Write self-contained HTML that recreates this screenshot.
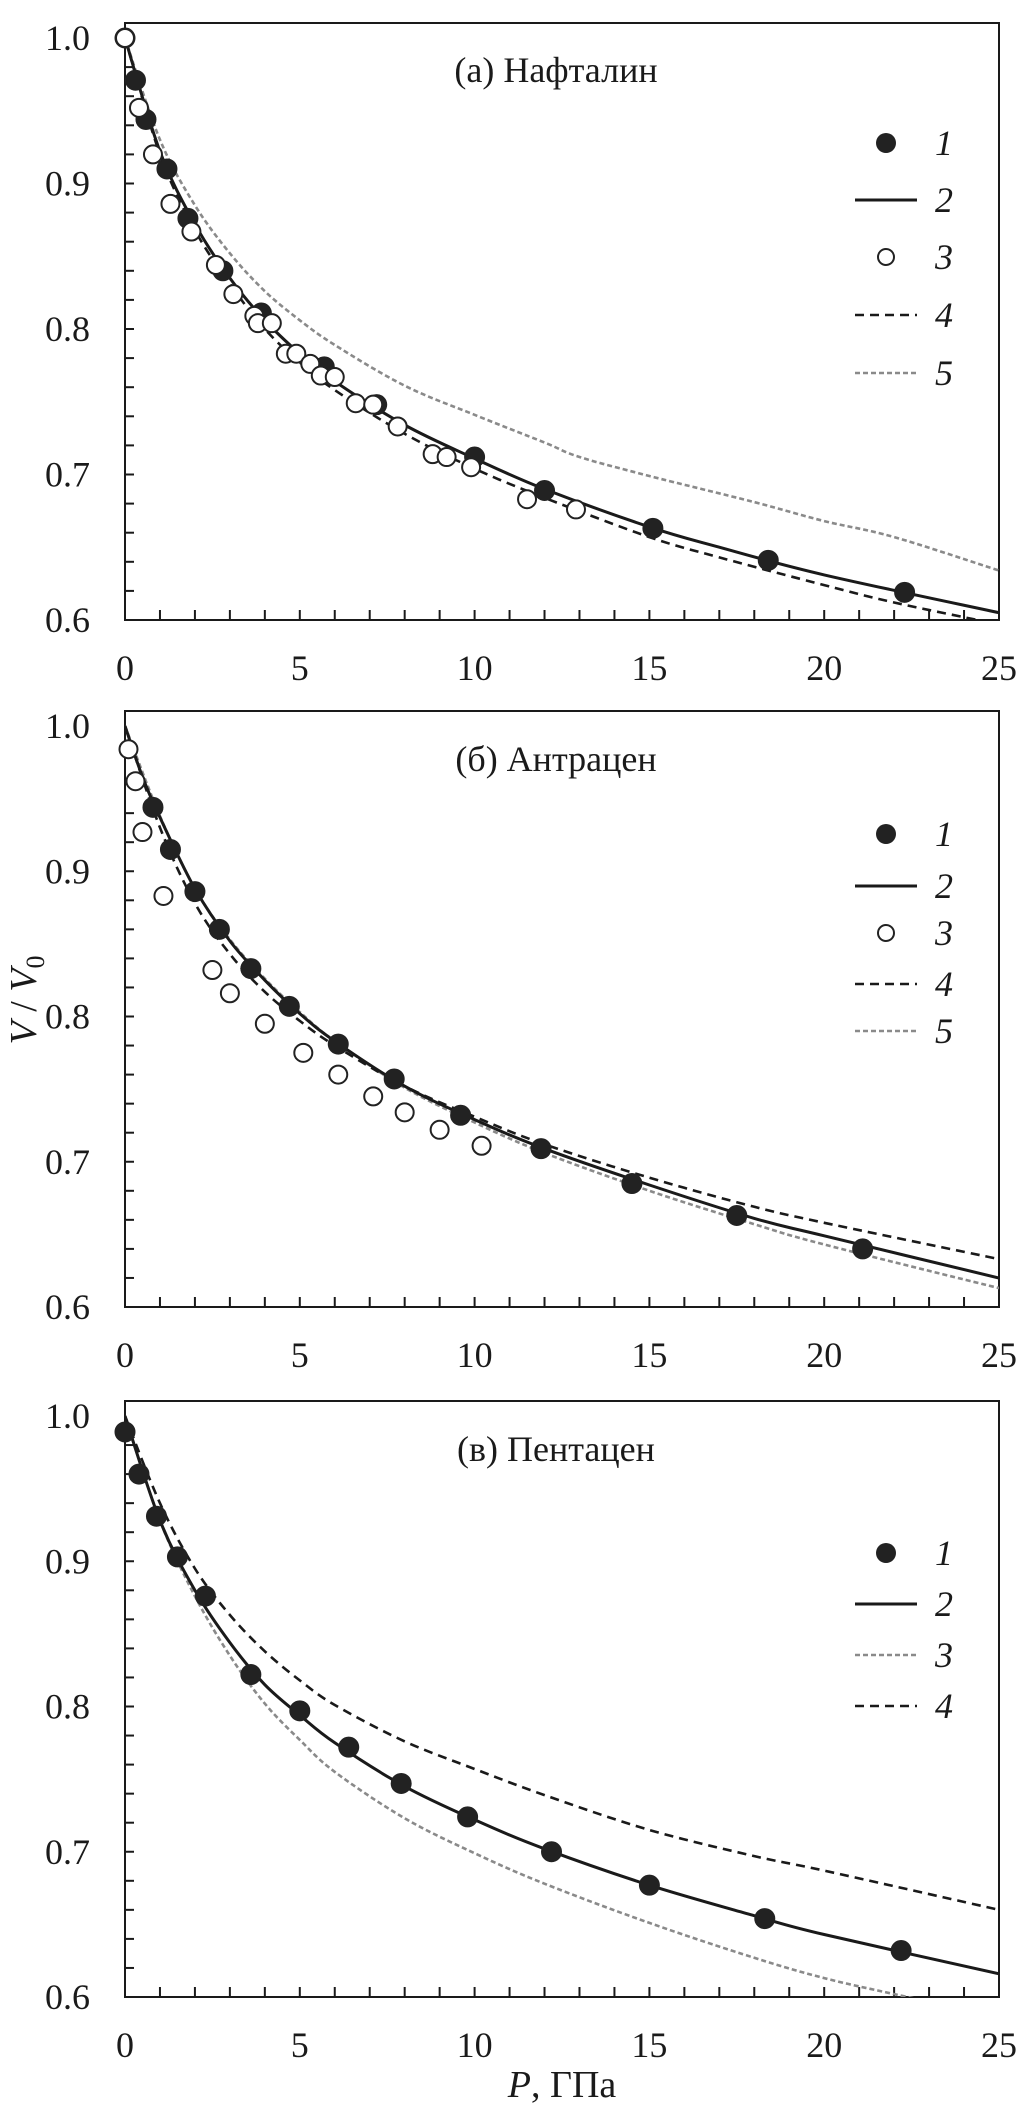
<!DOCTYPE html>
<html><head><meta charset="utf-8"><style>
html,body{margin:0;padding:0;background:#fff;}
svg{display:block;}
text{font-family:"Liberation Serif","Noto Serif CJK SC",serif;fill:#1a1a1a;}
</style></head><body>
<svg id="fig" width="1034" height="2104" viewBox="0 0 1034 2104" xmlns="http://www.w3.org/2000/svg"></svg>
<script>
// ---- data ----
const xTicks = [0,5,10,15,20,25];
const yTicks = [0.6,0.7,0.8,0.9,1.0];
const yTickLabels = ["0.6","0.7","0.8","0.9","1.0"];
// Panel a: naphthalene
const aS1P = [0,0.3,0.6,1.2,1.8,2.8,3.9,5.7,7.2,10,12,15.1,18.4,22.3];
const aS1V = [1.0,0.971,0.944,0.91,0.876,0.84,0.811,0.774,0.748,0.712,0.689,0.663,0.641,0.619];
const aS3P = [0,0.4,0.8,1.3,1.9,2.6,3.1,3.7,3.8,4.2,4.6,4.9,5.3,5.6,6,6.6,7.1,7.8,8.8,9.2,9.9,11.5,12.9];
const aS3V = [1.0,0.952,0.92,0.886,0.867,0.844,0.824,0.809,0.804,0.804,0.783,0.783,0.776,0.768,0.767,0.749,0.748,0.733,0.714,0.712,0.705,0.683,0.676];
const aS2P = [0,1,2,3,4,5,6,8,10,12,15,17,20,25];
const aS2V = [1.0,0.922,0.872,0.835,0.806,0.783,0.764,0.734,0.711,0.690,0.664,0.650,0.631,0.605];
const aS4P = [0,1,2,3,4,5,6,8,10,12,15,17,20,22,25];
const aS4V = [1.0,0.92,0.868,0.831,0.8,0.777,0.758,0.728,0.704,0.684,0.657,0.643,0.624,0.612,0.597];
const aS5P = [0,1,2,3,4,5,6,8,10,12,13,15,18,20,22,25];
const aS5V = [1.0,0.93,0.885,0.852,0.826,0.806,0.789,0.761,0.741,0.722,0.712,0.699,0.681,0.668,0.657,0.634];
// Panel b: anthracene
const bS1P = [0.8,1.3,2,2.7,3.6,4.7,6.1,7.7,9.6,11.9,14.5,17.5,21.1];
const bS1V = [0.944,0.915,0.886,0.86,0.833,0.807,0.781,0.757,0.732,0.709,0.685,0.663,0.64];
const bS3P = [0.1,0.3,0.5,1.1,2.5,3,4,5.1,6.1,7.1,8,9,10.2];
const bS3V = [0.984,0.962,0.927,0.883,0.832,0.816,0.795,0.775,0.76,0.745,0.734,0.722,0.711];
const bS2P = [0,0.5,1,2,3,4,5,6,8,10,12,15,18,20,25];
const bS2V = [1.0,0.965,0.937,0.888,0.852,0.825,0.802,0.783,0.752,0.729,0.709,0.684,0.661,0.649,0.62];
const bS4P = [0,1,2,3,4,5,6,8,10,12,15,18,20,25];
const bS4V = [1.0,0.93,0.878,0.843,0.817,0.797,0.78,0.752,0.731,0.712,0.689,0.669,0.658,0.633];
const bS5P = [0,1,2,3,4,5,6,8,10,12,15,18,20,25];
const bS5V = [1.0,0.938,0.888,0.853,0.826,0.803,0.783,0.751,0.727,0.706,0.68,0.657,0.643,0.613];
// Panel c: pentacene
const cS1P = [0,0.4,0.9,1.5,2.3,3.6,5,6.4,7.9,9.8,12.2,15,18.3,22.2];
const cS1V = [0.989,0.96,0.931,0.903,0.876,0.822,0.797,0.772,0.747,0.724,0.7,0.677,0.654,0.632];
const cS2P = [0,1,2,3,4,5,6,8,10,12,15,18,20,25];
const cS2V = [1.0,0.928,0.88,0.844,0.815,0.794,0.775,0.745,0.722,0.702,0.677,0.656,0.643,0.616];
const cS3P = [0,1,2,3,4,5,6,8,10,12,15,18,20,22,23];
const cS3V = [1.0,0.928,0.876,0.835,0.802,0.777,0.755,0.723,0.699,0.678,0.651,0.627,0.613,0.602,0.597];
const cS4P = [0,1,2,3,4,5,6,8,10,12,15,18,20,25];
const cS4V = [1.0,0.94,0.895,0.863,0.838,0.818,0.801,0.776,0.757,0.739,0.715,0.697,0.687,0.66];

const NS = "http://www.w3.org/2000/svg";
const svg = document.getElementById('fig');
const X0 = 125, X1 = 999;
function mk(tag, attrs, parent){
  const e = document.createElementNS(NS, tag);
  for (const k in attrs) e.setAttribute(k, attrs[k]);
  (parent||svg).appendChild(e);
  return e;
}
function smoothPath(pts){
  let d = "M"+pts[0][0].toFixed(1)+","+pts[0][1].toFixed(1);
  for (let i=0;i<pts.length-1;i++){
    const p0=pts[Math.max(0,i-1)], p1=pts[i], p2=pts[i+1], p3=pts[Math.min(pts.length-1,i+2)];
    const c1x=p1[0]+(p2[0]-p0[0])/6, c1y=p1[1]+(p2[1]-p0[1])/6;
    const c2x=p2[0]-(p3[0]-p1[0])/6, c2y=p2[1]-(p3[1]-p1[1])/6;
    d += " C"+c1x.toFixed(1)+","+c1y.toFixed(1)+" "+c2x.toFixed(1)+","+c2y.toFixed(1)+" "+p2[0].toFixed(1)+","+p2[1].toFixed(1);
  }
  return d;
}
const STY = {
  solid: {stroke:"#1a1a1a","stroke-width":3,"stroke-dasharray":""},
  dash: {stroke:"#1a1a1a","stroke-width":2.6,"stroke-dasharray":"9,6"},
  gray: {stroke:"#8a8a8a","stroke-width":2.6,"stroke-dasharray":"5,3"}
};

function panel(id, top, bottom, title, titleY, lines, pts, legend, legY){
  const g = mk('g', {});
  
  
  const Y1 = top + 15, Y0 = bottom; // y(1.0)=Y1, y(0.6)=Y0
  const xs = p => X0 + (p/25)*(X1-X0);
  const ys = v => Y0 - (v-0.6)/0.4*(Y0-Y1);
  const clipId = 'clip-'+id;
  const cp = mk('clipPath', {id:clipId}, g);
  mk('rect', {x:X0, y:top, width:X1-X0, height:bottom-top}, cp);
  // frame
  const fr = mk('rect', {x:X0, y:top, width:X1-X0, height:bottom-top, fill:"none", stroke:"#1a1a1a", "stroke-width":2}, g);
  
  
  // minor ticks
  for (let p=1;p<25;p++){
    const t = mk('line', {x1:xs(p), x2:xs(p), y1:bottom, y2:bottom-10, stroke:"#1a1a1a","stroke-width":2}, g);
    
    
  }
  for (let i=1;i<20;i++){
    const v = 0.6 + i*0.02;
    const t = mk('line', {x1:X0, x2:X0+9, y1:ys(v), y2:ys(v), stroke:"#1a1a1a","stroke-width":2}, g);
    
    
  }
  xTicks.forEach(p=>{
    const t = mk('text', {x:xs(p), y:bottom+60, "font-size":36, "text-anchor":"middle"}, g);
    t.textContent = p;
    
    
  });
  yTicks.forEach((v,i)=>{
    const t = mk('text', {x:90, y:ys(v)+12, "font-size":36, "text-anchor":"end"}, g);
    t.textContent = yTickLabels[i];
    
    
  });
  const tt = mk('text', {x:556, y:titleY, "font-size":36, "text-anchor":"middle"}, g);
  tt.textContent = title;
  
  
  const plot = mk('g', {"clip-path":"url(#"+clipId+")"}, g);
  lines.forEach(L=>{
    const ptsL = L.P.map((p,i)=>[xs(p), ys(L.V[i])]);
    const st = STY[L.s];
    const e = mk('path', {d:smoothPath(ptsL), fill:"none", stroke:st.stroke, "stroke-width":st["stroke-width"], "stroke-dasharray":st["stroke-dasharray"]}, plot);
    
    
  });
  pts.forEach(S=>{
    S.P.forEach((p,i)=>{
      const c = S.filled ? mk('circle', {cx:xs(p), cy:ys(S.V[i]), r:10, fill:"#222", stroke:"#222","stroke-width":1}, g)
                         : mk('circle', {cx:xs(p), cy:ys(S.V[i]), r:9, fill:"#fff", stroke:"#222","stroke-width":2}, g);
      
      
    });
  });
  // legend
  legend.forEach((item,i)=>{
    const y = legY[i];
    let e;
    if (item.t==='filled') e = mk('circle', {cx:886, cy:y, r:10, fill:"#222"}, g);
    else if (item.t==='open') e = mk('circle', {cx:886, cy:y, r:8, fill:"#fff", stroke:"#222","stroke-width":2}, g);
    else { const st = STY[item.t]; e = mk('line', {x1:855, x2:917, y1:y, y2:y, stroke:st.stroke, "stroke-width":st["stroke-width"], "stroke-dasharray":st["stroke-dasharray"]}, g); }
    
    
    const t = mk('text', {x:935, y:y+12, "font-size":36, "font-style":"italic"}, g);
    t.textContent = item.n;
    
    
  });
}

panel('a', 23, 620, '(a) Нафталин', 82,
  [{P:aS5P,V:aS5V,s:'gray',n:5},{P:aS4P,V:aS4V,s:'dash',n:4},{P:aS2P,V:aS2V,s:'solid',n:2}],
  [{P:aS1P,V:aS1V,filled:true,n:1},{P:aS3P,V:aS3V,filled:false,n:3}],
  [{t:'filled',n:'1'},{t:'solid',n:'2'},{t:'open',n:'3'},{t:'dash',n:'4'},{t:'gray',n:'5'}],
  [143,200,257,315,373]);
panel('b', 711, 1307, '(б) Антрацен', 771,
  [{P:bS5P,V:bS5V,s:'gray',n:5},{P:bS4P,V:bS4V,s:'dash',n:4},{P:bS2P,V:bS2V,s:'solid',n:2}],
  [{P:bS1P,V:bS1V,filled:true,n:1},{P:bS3P,V:bS3V,filled:false,n:3}],
  [{t:'filled',n:'1'},{t:'solid',n:'2'},{t:'open',n:'3'},{t:'dash',n:'4'},{t:'gray',n:'5'}],
  [834,886,933,984,1031]);
panel('c', 1401, 1997, '(в) Пентацен', 1461,
  [{P:cS3P,V:cS3V,s:'gray',n:3},{P:cS4P,V:cS4V,s:'dash',n:4},{P:cS2P,V:cS2V,s:'solid',n:2}],
  [{P:cS1P,V:cS1V,filled:true,n:1}],
  [{t:'filled',n:'1'},{t:'solid',n:'2'},{t:'gray',n:'3'},{t:'dash',n:'4'}],
  [1553,1604,1655,1706]);

// axis titles
const yl = mk('text', {x:0, y:0, "font-size":38, "text-anchor":"middle", transform:"translate(36,1000) rotate(-90)"});
yl.innerHTML = '<tspan font-style="italic">V</tspan> / <tspan font-style="italic">V</tspan><tspan font-size="26" dy="8">0</tspan>';


const xl = mk('text', {x:562, y:2097, "font-size":38, "text-anchor":"middle"});
xl.innerHTML = '<tspan font-style="italic">P</tspan>, ГПа';


</script>
</body></html>
